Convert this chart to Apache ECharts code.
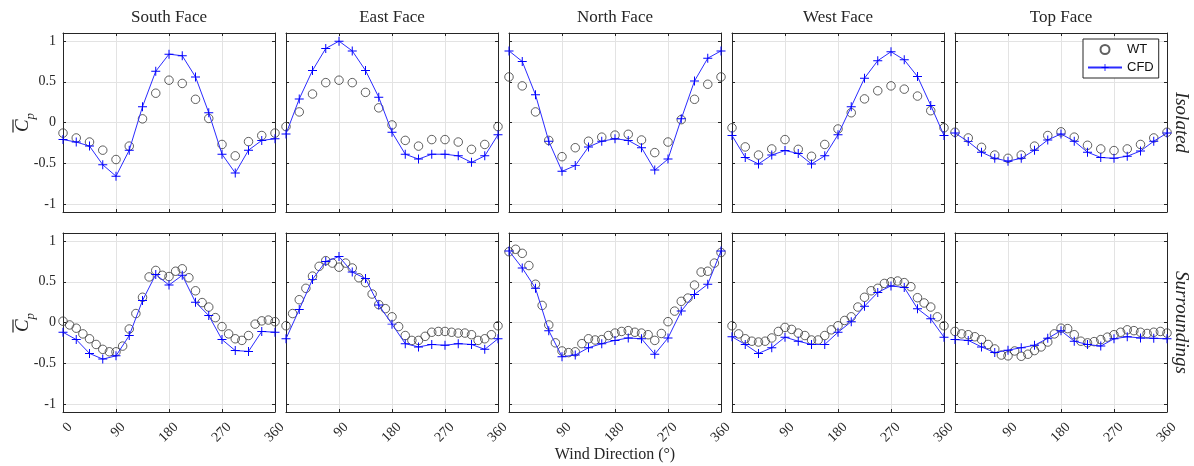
<!DOCTYPE html>
<html><head><meta charset="utf-8">
<script src="https://cdn.jsdelivr.net/npm/echarts@6/dist/echarts.min.js"></script>
<style>html,body{margin:0;padding:0;background:#fff}#c{width:1194px;height:466px}</style>
</head><body><div id="c"></div><script>
const faces = ['South Face','East Face','North Face','West Face','Top Face'];
const rowLabels = ['Isolated','Surroundings'];
const xTicks = [0,90,180,270,360];
const yTicks = [-1,-0.5,0,0.5,1];
const xTitle = 'Wind Direction (°)';
const dirCFD = [0,22.5,45,67.5,90,112.5,135,157.5,180,202.5,225,247.5,270,292.5,315,337.5,360];
const dirWTIso = [0,22.5,45,67.5,90,112.5,135,157.5,180,202.5,225,247.5,270,292.5,315,337.5,360];
const dirWTSur = [0,11.25,22.5,33.75,45,56.25,67.5,78.75,90,101.25,112.5,123.75,135,146.25,157.5,168.75,180,191.25,202.5,213.75,225,236.25,247.5,258.75,270,281.25,292.5,303.75,315,326.25,337.5,348.75,360];

// Isolated
const isoSouthWT  = [-0.13,-0.19,-0.24,-0.34,-0.455,-0.29,0.045,0.36,0.52,0.48,0.285,0.05,-0.27,-0.41,-0.235,-0.16,-0.13];
const isoSouthCFD = [-0.21,-0.24,-0.29,-0.52,-0.66,-0.34,0.195,0.63,0.84,0.82,0.56,0.12,-0.39,-0.62,-0.34,-0.22,-0.20];
const isoEastWT   = [-0.05,0.13,0.35,0.49,0.52,0.49,0.37,0.18,-0.03,-0.22,-0.29,-0.21,-0.21,-0.24,-0.33,-0.27,-0.05];
const isoEastCFD  = [-0.14,0.29,0.64,0.91,1.0,0.88,0.64,0.31,-0.12,-0.39,-0.45,-0.39,-0.39,-0.41,-0.49,-0.41,-0.15];
const isoNorthWT  = [0.56,0.45,0.13,-0.22,-0.42,-0.31,-0.23,-0.18,-0.155,-0.145,-0.215,-0.37,-0.24,0.035,0.285,0.47,0.56];
const isoNorthCFD = [0.88,0.75,0.34,-0.23,-0.60,-0.53,-0.30,-0.23,-0.20,-0.22,-0.31,-0.585,-0.45,0.045,0.51,0.79,0.88];
const isoWestWT   = [-0.065,-0.30,-0.40,-0.325,-0.21,-0.33,-0.415,-0.27,-0.08,0.12,0.29,0.39,0.45,0.41,0.325,0.145,-0.065];
const isoWestCFD  = [-0.16,-0.43,-0.51,-0.40,-0.345,-0.38,-0.51,-0.41,-0.15,0.195,0.545,0.76,0.87,0.77,0.565,0.21,-0.16];
const isoTopWT    = [-0.12,-0.19,-0.305,-0.40,-0.44,-0.40,-0.29,-0.16,-0.115,-0.18,-0.28,-0.325,-0.345,-0.325,-0.27,-0.19,-0.12];
const isoTopCFD   = [-0.13,-0.235,-0.365,-0.44,-0.475,-0.44,-0.34,-0.215,-0.14,-0.23,-0.365,-0.43,-0.44,-0.415,-0.35,-0.23,-0.13];

// Surroundings
const surSouthWT  = [0.016,-0.03,-0.07,-0.14,-0.20,-0.27,-0.33,-0.36,-0.36,-0.29,-0.08,0.11,0.31,0.56,0.64,0.58,0.565,0.63,0.66,0.55,0.39,0.245,0.19,0.06,-0.05,-0.14,-0.20,-0.22,-0.16,-0.02,0.02,0.03,0.01];
const surSouthCFD = [-0.12,-0.21,-0.38,-0.45,-0.41,-0.16,0.27,0.59,0.46,0.58,0.25,0.085,-0.21,-0.345,-0.355,-0.11,-0.12];
const surEastWT   = [-0.04,0.11,0.28,0.42,0.57,0.69,0.76,0.73,0.68,0.73,0.67,0.55,0.49,0.35,0.22,0.17,0.07,-0.05,-0.16,-0.22,-0.22,-0.17,-0.12,-0.11,-0.11,-0.12,-0.13,-0.13,-0.15,-0.22,-0.20,-0.15,-0.04];
const surEastCFD  = [-0.20,0.16,0.53,0.75,0.81,0.62,0.54,0.215,-0.02,-0.26,-0.30,-0.27,-0.28,-0.26,-0.27,-0.33,-0.20];
const surNorthWT  = [0.87,0.90,0.85,0.70,0.47,0.21,-0.03,-0.25,-0.35,-0.37,-0.36,-0.26,-0.20,-0.215,-0.21,-0.16,-0.13,-0.11,-0.10,-0.12,-0.13,-0.15,-0.22,-0.135,0.01,0.14,0.26,0.30,0.46,0.62,0.63,0.73,0.86];
const surNorthCFD = [0.88,0.67,0.42,-0.10,-0.42,-0.40,-0.31,-0.26,-0.22,-0.19,-0.20,-0.39,-0.19,0.14,0.345,0.47,0.88];
const surWestWT   = [-0.04,-0.14,-0.20,-0.23,-0.24,-0.23,-0.19,-0.11,-0.06,-0.085,-0.13,-0.16,-0.215,-0.215,-0.16,-0.09,-0.04,0.025,0.07,0.19,0.31,0.39,0.42,0.48,0.50,0.51,0.49,0.44,0.305,0.24,0.19,0.07,-0.04];
const surWestCFD  = [-0.175,-0.27,-0.38,-0.31,-0.18,-0.23,-0.27,-0.27,-0.12,0.01,0.20,0.37,0.45,0.43,0.17,0.045,-0.18];
const surTopWT    = [-0.11,-0.14,-0.15,-0.175,-0.21,-0.27,-0.325,-0.40,-0.41,-0.35,-0.415,-0.39,-0.345,-0.30,-0.24,-0.14,-0.07,-0.075,-0.15,-0.23,-0.25,-0.235,-0.21,-0.18,-0.15,-0.12,-0.09,-0.10,-0.12,-0.135,-0.12,-0.11,-0.13];
const surTopCFD   = [-0.21,-0.22,-0.30,-0.37,-0.34,-0.31,-0.28,-0.195,-0.10,-0.23,-0.27,-0.29,-0.20,-0.175,-0.19,-0.195,-0.20];

const panelsWT  = [[isoSouthWT,isoEastWT,isoNorthWT,isoWestWT,isoTopWT],[surSouthWT,surEastWT,surNorthWT,surWestWT,surTopWT]];
const panelsCFD = [[isoSouthCFD,isoEastCFD,isoNorthCFD,isoWestCFD,isoTopCFD],[surSouthCFD,surEastCFD,surNorthCFD,surWestCFD,surTopCFD]];
const dirsWT = [dirWTIso, dirWTSur];

const AX = '#262626', GRIDC = '#e3e3e3';
const SERIF = '"Liberation Serif","DejaVu Serif",serif';
const colLeft = [63, 286, 509, 732, 955];
const panelW = 212;
const rowTop = [33, 233];
const panelH = 179;
const plusPath = 'path://M-0.11,-1H0.11V-0.11H1V0.11H0.11V1H-0.11V0.11H-1V-0.11H-0.11Z';

const grids = [], xAxes = [], yAxes = [], series = [], graphics = [];
for (let r = 0; r < 2; r++) {
  for (let c = 0; c < 5; c++) {
    const g = r * 5 + c;
    grids.push({left: colLeft[c], top: rowTop[r], width: panelW, height: panelH, containLabel: false});
    const showX = r === 1;
    xAxes.push({
      type: 'value', gridIndex: g, position: 'bottom', min: 0, max: 360, interval: 90,
      axisLine: {show: true, onZero: false, lineStyle: {color: AX, width: 1}},
      axisTick: {show: true, inside: true, length: 3, lineStyle: {color: AX}},
      splitLine: {show: true, lineStyle: {color: GRIDC, width: 1}},
      axisLabel: {show: showX, rotate: 45, fontFamily: SERIF, fontSize: 14, color: AX, margin: 6,
        verticalAlign: 'top', padding: [3, 0, 0, 0],
        formatter: (v) => (c > 0 && v === 0) ? '' : String(v)}
    });
    xAxes.push({
      type: 'value', gridIndex: g, position: 'top', min: 0, max: 360, interval: 90,
      axisLine: {show: true, onZero: false, lineStyle: {color: AX, width: 1}},
      axisTick: {show: true, inside: true, length: 3, lineStyle: {color: AX}},
      splitLine: {show: false}, axisLabel: {show: false}
    });
    yAxes.push({
      type: 'value', gridIndex: g, position: 'left', min: -1.1, max: 1.1,
      axisLine: {show: true, onZero: false, lineStyle: {color: AX, width: 1}},
      axisTick: {show: true, inside: true, length: 3, customValues: yTicks, lineStyle: {color: AX}},
      splitLine: {show: true, lineStyle: {color: GRIDC, width: 1}},
      axisLabel: {show: c === 0, customValues: yTicks, fontFamily: SERIF, fontSize: 14, color: AX, margin: 7}
    });
    yAxes.push({
      type: 'value', gridIndex: g, position: 'right', min: -1.1, max: 1.1,
      axisLine: {show: true, onZero: false, lineStyle: {color: AX, width: 1}},
      axisTick: {show: true, inside: true, length: 3, customValues: yTicks, lineStyle: {color: AX}},
      splitLine: {show: false}, axisLabel: {show: false}
    });
    const wt = panelsWT[r][c], cfd = panelsCFD[r][c], dW = dirsWT[r];
    series.push({
      name: 'WT', type: 'scatter', xAxisIndex: 2 * g, yAxisIndex: 2 * g,
      data: wt.map((v, i) => [dW[i], v]),
      symbol: 'circle', symbolSize: 8.5, clip: false, z: 2,
      itemStyle: {color: 'rgba(0,0,0,0)', borderColor: '#383838', borderWidth: 1},
      emphasis: {disabled: true}, animation: false
    });
    series.push({
      name: 'CFD', type: 'line', xAxisIndex: 2 * g, yAxisIndex: 2 * g,
      data: cfd.map((v, i) => [dirCFD[i], v]),
      symbol: plusPath, symbolSize: 9, showSymbol: true, showAllSymbol: true, clip: false, z: 3,
      lineStyle: {color: '#2b2bff', width: 1},
      itemStyle: {color: '#0000ff', borderWidth: 0},
      emphasis: {disabled: true}, animation: false
    });
  }
}

for (let c = 0; c < 5; c++) {
  graphics.push({type: 'text', x: colLeft[c] + panelW / 2, y: 18,
    style: {text: faces[c], font: '17px ' + SERIF, fill: AX, align: 'center', verticalAlign: 'middle'}});
}
for (let r = 0; r < 2; r++) {
  const cy = rowTop[r] + panelH / 2;
  graphics.push({type: 'text', x: 1181, y: cy, rotation: -Math.PI / 2,
    style: {text: rowLabels[r], font: 'italic 19px ' + SERIF, fill: AX, align: 'center', verticalAlign: 'middle'}});
  graphics.push({type: 'group', x: 22, y: cy, rotation: Math.PI / 2, children: [
    {type: 'text', x: 0, y: 0, style: {text: '{c|C}{s|p}', align: 'center', verticalAlign: 'middle', fill: AX,
      rich: {c: {font: 'italic 19px ' + SERIF, fill: AX, lineHeight: 20, verticalAlign: 'bottom'},
             s: {font: 'italic 13px ' + SERIF, fill: AX, lineHeight: 14, verticalAlign: 'bottom', padding: [0, 0, -5, 0]}}}},
    {type: 'line', shape: {x1: -10, y1: -9, x2: 3, y2: -9}, style: {stroke: AX, lineWidth: 1.2}}
  ]});
}
graphics.push({type: 'text', x: 615, y: 455,
  style: {text: xTitle, font: '16px ' + SERIF, fill: AX, align: 'center', verticalAlign: 'middle'}});

const chart = echarts.init(document.getElementById('c'), null, {renderer: 'canvas'});
chart.setOption({
  backgroundColor: '#fff',
  animation: false,
  grid: grids, xAxis: xAxes, yAxis: yAxes, series: series,
  legend: {
    data: ['WT', 'CFD'], orient: 'vertical', left: 1083, top: 39,
    itemWidth: 34, itemHeight: 9, itemGap: 5, padding: [4, 5, 4, 4],
    borderColor: AX, borderWidth: 1, backgroundColor: '#fff',
    textStyle: {fontFamily: '"Liberation Sans",Arial,sans-serif', fontSize: 13, color: '#111'},
    selectedMode: false
  },
  graphic: graphics
});
</script></body></html>
